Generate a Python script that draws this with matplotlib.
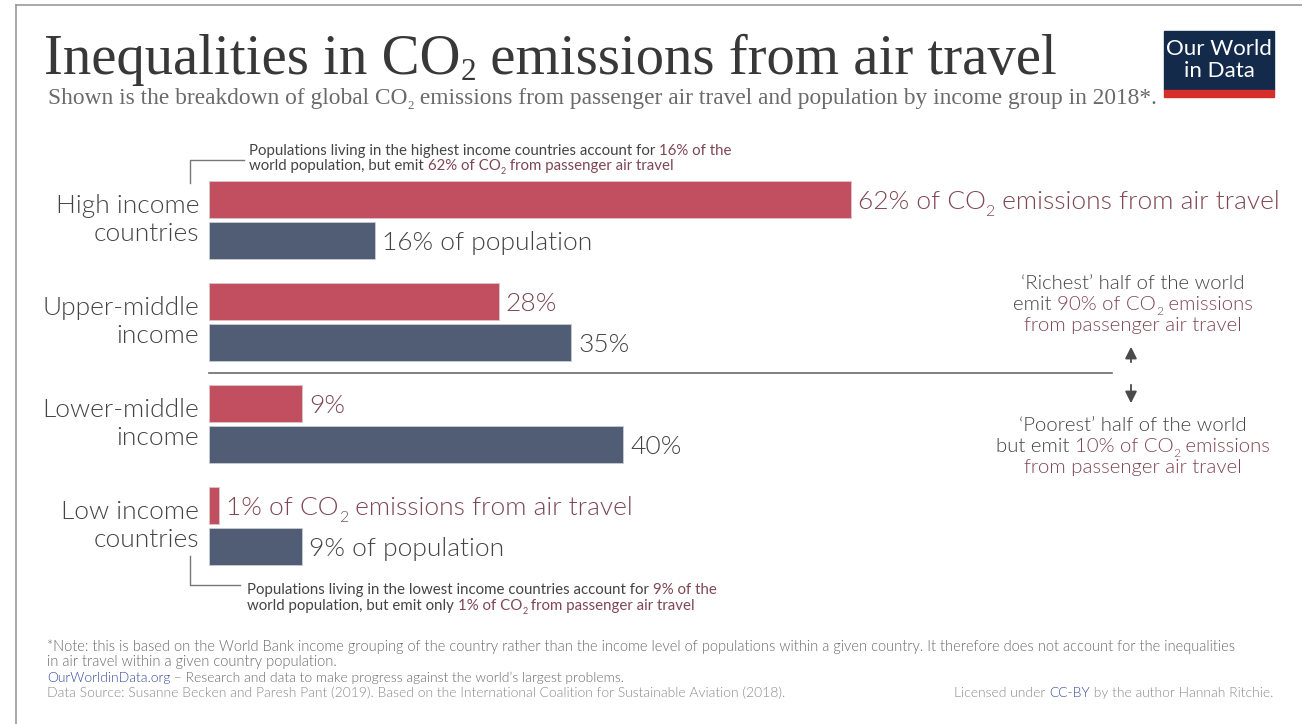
import matplotlib
matplotlib.use("Agg")
import matplotlib.pyplot as plt
from matplotlib.lines import Line2D
from matplotlib.patches import Rectangle

"owid style chart: CO2 from air travel vs population by income group"

plt.rcParams["font.family"] = ["Lato", "DejaVu Sans"]

# data
groups = ["High income\ncountries", "Upper-middle\nincome", "Lower-middle\nincome", "Low income\ncountries"]
co2_share = [62, 28, 9, 1]
pop_share = [16, 35, 40, 9]
co2_labels = ["62% of CO_2 emissions from air travel", "28%", "9%", "1% of CO_2 emissions from air travel"]
pop_labels = ["16% of population", "35%", "40%", "9% of population"]

RED = "#c24f60"
BLUE = "#505d75"
MAROON = "#7f4654"
DARK = "#444444"
LINK = "#3b4a9e"
LIGHT = 300
SANS = ("Lato", "DejaVu Sans")
SERIF = ("Liberation Serif", "DejaVu Serif")

W, H = 1302, 724
fig = plt.figure(figsize=(W / 100, H / 100), dpi=100)
fig.patch.set_facecolor("white")


def fx(x):
    return x / W


def fy(y):
    return 1 - y / H


# frame lines
fig.add_artist(Line2D([fx(16), 1], [fy(5), fy(5)], color="#9a9a9a", lw=1.2))
fig.add_artist(Line2D([fx(16), fx(16)], [fy(5), 0], color="#9a9a9a", lw=1.2))

# bar axes (10.35 px per percent)
px_per = 10.35
ax_l, ax_r, ax_t, ax_b = 209, 1300, 170, 576
ax = fig.add_axes([fx(ax_l), fy(ax_b), (ax_r - ax_l) / W, (ax_b - ax_t) / H])
ax.set_xlim(0, (ax_r - ax_l) / px_per)
ax.set_ylim(3.49, -0.49)
ax.axis("off")

y = list(range(len(groups)))
off, bh = 0.2, 0.363
ax.barh([i - off for i in y], co2_share, height=bh, color=RED, edgecolor="#d9c4c8", lw=0.6)
ax.barh([i + off for i in y], pop_share, height=bh, color=BLUE, edgecolor="#c8ccd4", lw=0.6)

for i, g in enumerate(groups):
    ax.annotate(g, (0, i), xycoords=("axes fraction", "data"), xytext=(-7, 0), textcoords="offset points",
                ha="right", va="center", fontsize=19, fontweight=LIGHT, color=DARK, linespacing=1.18,
                multialignment="right")

# separator between richest and poorest halves
ax.plot([0, (1112 - ax_l) / px_per], [1.5, 1.5], color="#6b6b6b", lw=1.2, clip_on=False)

renderer = fig.canvas.get_renderer()


def text_w(s, size, weight, family):
    t = fig.text(0, 0, s + "|", fontsize=size, fontweight=weight, family=family)
    w = t.get_window_extent(renderer).width
    t.remove()
    t = fig.text(0, 0, "|", fontsize=size, fontweight=weight, family=family)
    w0 = t.get_window_extent(renderer).width
    t.remove()
    return w - w0


def split_sub(s, c):
    "turn 'CO_2' markers into separate subscript pieces"
    out = []
    parts = s.split("_2")
    for k, p in enumerate(parts):
        if p:
            out.append((p, c, False))
        if k < len(parts) - 1:
            out.append(("2", c, True))
    return out


def rich_line(x, y, pieces, size, ha="left", weight=LIGHT, family=SANS, sub_scale=0.6, sub_drop=0.25):
    "draw colored pieces one after another on a common baseline (pixel coords, y = baseline)"
    family = list(family)
    flat = []
    for s, c in pieces:
        flat += split_sub(s, c)
    widths = []
    for s, c, sub in flat:
        widths.append(text_w(s, size * sub_scale if sub else size, weight, family))
    total = sum(widths)
    if ha == "center":
        x = x - total / 2
    elif ha == "right":
        x = x - total
    size_px = size * 100 / 72
    for (s, c, sub), w in zip(flat, widths):
        yy = y + sub_drop * size_px if sub else y
        fig.text(fx(x), fy(yy), s, fontsize=size * sub_scale if sub else size, fontweight=weight,
                 family=family, color=c, va="baseline", ha="left")
        x += w


# value labels next to bars, positioned from the axes' data transform
def bar_label(val, ypos, text, color):
    dx, dy = ax.transData.transform((val, ypos))
    size = 19
    rich_line(dx + 7, H - dy + 0.36 * size * 100 / 72, [(text, color)], size)


for i in y:
    bar_label(co2_share[i], i - off, co2_labels[i], MAROON)
    bar_label(pop_share[i], i + off, pop_labels[i], DARK)

# title + subtitle
rich_line(44, 74, [("Inequalities in CO_2 emissions from air travel", "#383838")], 40.9,
          weight="normal", family=SERIF, sub_scale=0.55, sub_drop=0.1)
rich_line(48, 104, [("Shown is the breakdown of global CO_2 emissions from passenger air travel "
                     "and population by income group in 2018*.", "#6a6a6a")], 16.8,
          weight="normal", family=SERIF, sub_scale=0.55, sub_drop=0.2)

# logo
fig.add_artist(Rectangle((fx(1164), fy(90)), 110 / W, 59 / H, color="#132a4b", transform=fig.transFigure))
fig.add_artist(Rectangle((fx(1164), fy(97)), 110 / W, 7 / H, color="#d42f2a", transform=fig.transFigure))
fig.text(fx(1219), fy(60), "Our World\nin Data", color="white", fontsize=16, ha="center", va="center",
         linespacing=1.15)

# top annotation
fig.add_artist(Line2D([fx(190), fx(190), fx(244)], [fy(183), fy(160), fy(160)], color="#777777", lw=1))
rich_line(249, 155, [("Populations living in the highest income countries account for ", DARK),
                     ("16% of the", MAROON)], 10.8, weight="normal")
rich_line(249, 170, [("world population, but emit ", DARK),
                     ("62% of CO_2 from passenger air travel", MAROON)], 10.8, weight="normal")

# bottom annotation
fig.add_artist(Line2D([fx(190), fx(190), fx(240)], [fy(556), fy(585), fy(585)], color="#777777", lw=1))
rich_line(247, 594, [("Populations living in the lowest income countries account for ", DARK),
                     ("9% of the", MAROON)], 10.8, weight="normal")
rich_line(247, 610, [("world population, but emit only ", DARK),
                     ("1% of CO_2 from passenger air travel", MAROON)], 10.8, weight="normal")

# right side annotation
cx = 1133
rich_line(cx, 289, [("\u2018Richest\u2019 half of the world", DARK)], 14.7, ha="center")
rich_line(cx, 310, [("emit ", DARK), ("90% of CO_2 emissions", MAROON)], 14.7, ha="center")
rich_line(cx, 331, [("from passenger air travel", MAROON)], 14.7, ha="center")
rich_line(cx, 431, [("\u2018Poorest\u2019 half of the world", DARK)], 14.7, ha="center")
rich_line(cx, 452, [("but emit ", DARK), ("10% of CO_2 emissions", MAROON)], 14.7, ha="center")
rich_line(cx, 473, [("from passenger air travel", MAROON)], 14.7, ha="center")

arrow = dict(arrowstyle="-|>,head_length=0.7,head_width=0.35", color="#4a4a4a", lw=1.3)
fig.add_artist(plt.Annotation("", xy=(fx(1131), fy(344)), xytext=(fx(1131), fy(365)),
                              xycoords="figure fraction", arrowprops=arrow))
fig.add_artist(plt.Annotation("", xy=(fx(1131), fy(406)), xytext=(fx(1131), fy(382)),
                              xycoords="figure fraction", arrowprops=arrow))

# footer
rich_line(47, 651, [("*Note: this is based on the World Bank income grouping of the country rather than the "
                     "income level of populations within a given country. It therefore does not account for "
                     "the inequalities", "#6a6a6a")], 10.55)
rich_line(47, 666, [("in air travel within a given country population.", "#6a6a6a")], 10.55)
rich_line(47, 682, [("OurWorldinData.org", LINK),
                    (" \u2013 Research and data to make progress against the world\u2019s largest problems.",
                     "#6a6a6a")], 10)
rich_line(47, 697, [("Data Source: Susanne Becken and Paresh Pant (2019). Based on the International "
                     "Coalition for Sustainable Aviation (2018).", "#8a8a8a")], 10)
rich_line(1273, 697, [("Licensed under ", "#8a8a8a"), ("CC-BY", LINK),
                      (" by the author Hannah Ritchie.", "#8a8a8a")], 10, ha="right")

fig.savefig("out.png", dpi=100)
